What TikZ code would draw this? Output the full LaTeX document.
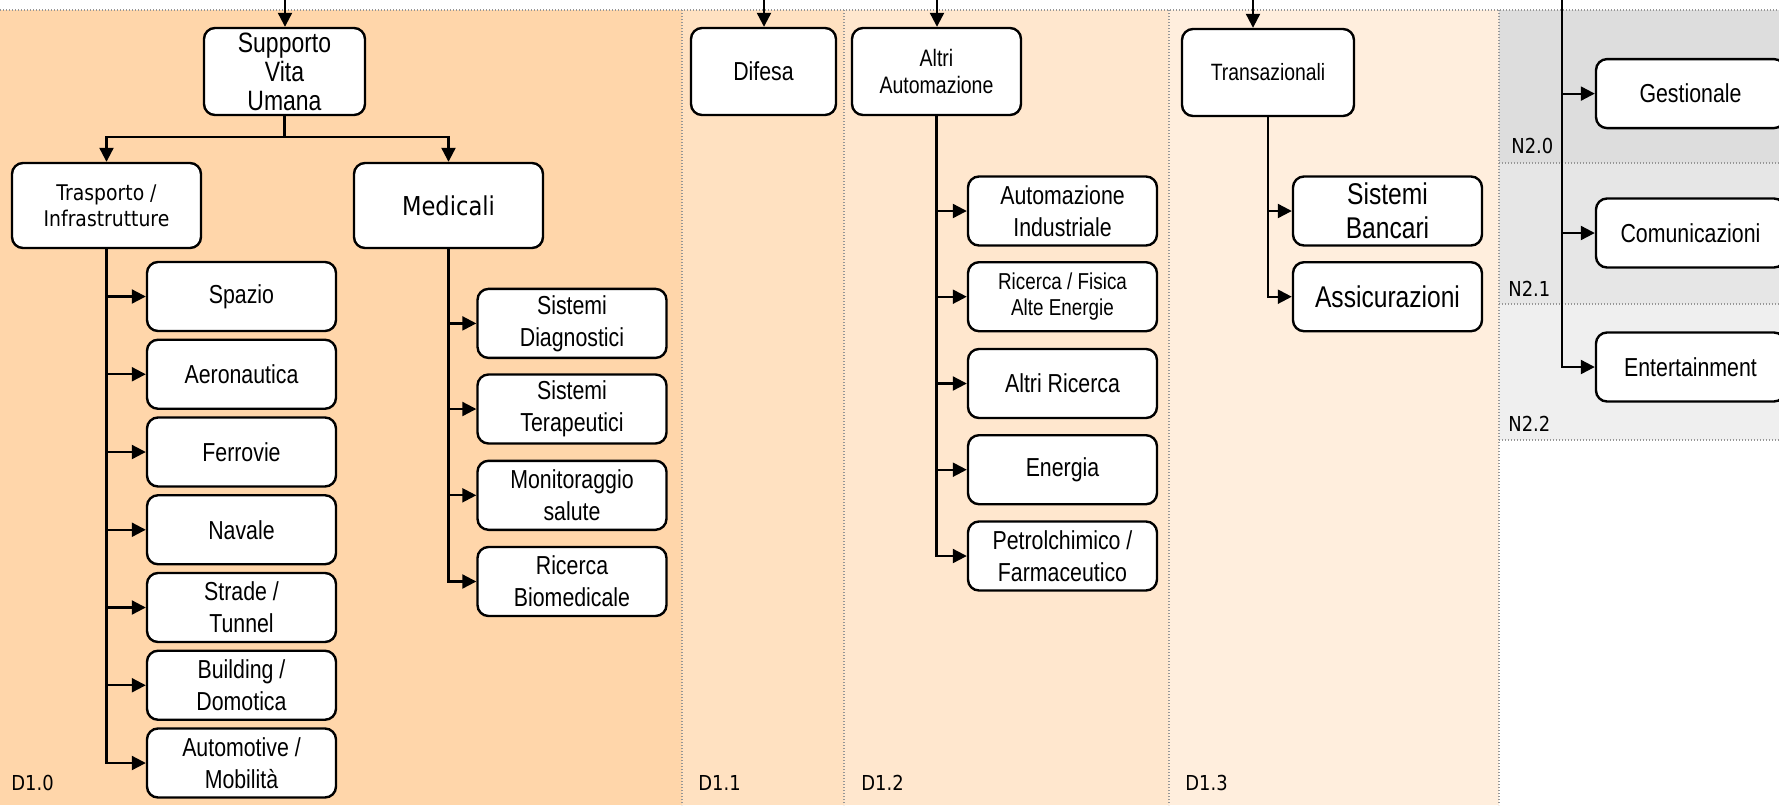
\documentclass[tikz,border=0pt]{standalone}
\usepackage{fontspec}
\setmainfont[FakeStretch=0.82]{Liberation Sans}
\newfontfamily\tah[FakeStretch=0.87]{DejaVu Sans}
\usetikzlibrary{arrows.meta}
\definecolor{dA}{RGB}{255,214,170}
\definecolor{dB}{RGB}{255,225,193}
\definecolor{dC}{RGB}{255,231,206}
\definecolor{dD}{RGB}{255,238,221}
\definecolor{nA}{RGB}{221,221,221}
\definecolor{nB}{RGB}{230,230,230}
\definecolor{nC}{RGB}{239,239,239}
\definecolor{brd}{RGB}{150,150,150}
\tikzset{
  box/.style={draw, line width=1.2pt, rounded corners=5.5pt, fill=white, align=center,
    inner sep=1pt, minimum width=94.5pt, minimum height=34.5pt, font=\fontsize{13}{16}\selectfont},
  topbox/.style={box, minimum height=43.5pt},
  arr/.style={line width=1.1pt, -{Triangle[length=7pt,width=7pt]}},
  conn/.style={line width=1.1pt},
  border/.style={draw=brd, line width=0.6pt, dash pattern=on 0.7pt off 0.8pt},
  plabel/.style={anchor=base west, inner sep=0pt, font=\tah\fontsize{10.3}{12}\selectfont}
}
\begin{document}
\begin{tikzpicture}[x=0.5pt,y=-0.5pt]
\useasboundingbox (0,0) rectangle (1779,805);
% panels
\fill[dA] (0,10) rectangle (682,805);
\fill[dB] (682,10) rectangle (844,805);
\fill[dC] (844,10) rectangle (1169,805);
\fill[dD] (1169,10) rectangle (1499,805);
\fill[nA] (1499,10) rectangle (1790,163);
\fill[nB] (1499,163) rectangle (1790,304);
\fill[nC] (1499,304) rectangle (1790,440);
\draw[border] (0,10) -- (1790,10);
\draw[border] (682,10) -- (682,805);
\draw[border] (844,10) -- (844,805);
\draw[border] (1169,10) -- (1169,805);
\draw[border] (1499,10) -- (1499,805);
\draw[border] (1499,163) -- (1790,163);
\draw[border] (1499,304) -- (1790,304);
\draw[border] (1499,440) -- (1790,440);
\node[plabel] (lD10) at (11,790) {D1.0};
\node[plabel] (lD11) at (698,790) {D1.1};
\node[plabel] (lD12) at (861,790) {D1.2};
\node[plabel] (lD13) at (1185,790) {D1.3};
\node[plabel] (lN20) at (1511,153) {N2.0};
\node[plabel] (lN21) at (1508,296) {N2.1};
\node[plabel] (lN22) at (1508,431) {N2.2};

% D1.0
\node[topbox, minimum width=80.5pt, font=\fontsize{14}{14.5}\selectfont] (supp) at (284.5,71.5) {Supporto\\Vita\\Umana};
\node[box, minimum height=42.5pt, font=\tah\fontsize{10.8}{13}\selectfont] (trasp) at (106.5,205.5) {Trasporto /\\Infrastrutture};
\node[box, minimum height=42.5pt, font=\tah\fontsize{13}{16}\selectfont] (medic) at (448.5,205.5) {Medicali};

\node[box] (spazio) at (241.5,296.5) {Spazio};
\node[box] (aero) at (241.5,374.25) {Aeronautica};
\node[box] (ferr) at (241.5,452) {Ferrovie};
\node[box] (nav) at (241.5,529.75) {Navale};
\node[box] (strade) at (241.5,607.5) {Strade /\\Tunnel};
\node[box] (build) at (241.5,685.25) {Building /\\Domotica};
\node[box] (auto) at (241.5,763) {Automotive /\\Mobilità};

\node[box] (diag) at (572,323.4) {Sistemi\\Diagnostici};
\node[box] (tera) at (572,409) {Sistemi\\Terapeutici};
\node[box] (moni) at (572,495.3) {Monitoraggio\\salute};
\node[box] (biom) at (572,581.5) {Ricerca\\Biomedicale};

% D1.1
\node[topbox, minimum width=72.5pt] (dif) at (763.5,71.5) {Difesa};
% D1.2
\node[topbox, minimum width=84.5pt, font=\fontsize{11.9}{13.5}\selectfont] (altri) at (936.5,71.5) {Altri\\Automazione};
\node[box] (ind) at (1062.5,211) {Automazione\\Industriale};
\node[box, font=\fontsize{11.5}{13.3}\selectfont] (fis) at (1062.5,296.7) {Ricerca / Fisica\\Alte Energie};
\node[box] (aric) at (1062.5,383.5) {Altri Ricerca};
\node[box] (ener) at (1062.5,469.7) {Energia};
\node[box] (petr) at (1062.5,556) {Petrolchimico /\\Farmaceutico};
% D1.3
\node[topbox, minimum width=86pt, font=\fontsize{11.8}{13.5}\selectfont] (trans) at (1268,72.5) {Transazionali};
\node[box, font=\fontsize{15}{17}\selectfont] (banc) at (1387.5,211) {Sistemi\\Bancari};
\node[box, font=\fontsize{15}{17}\selectfont] (assic) at (1387.5,296.7) {Assicurazioni};
% N2
\node[box] (gest) at (1690.5,93.6) {Gestionale};
\node[box] (comu) at (1690.5,233) {Comunicazioni};
\node[box] (ente) at (1690.5,367) {Entertainment};

% incoming arrows
\coordinate (in1) at (285,0);
\coordinate (in2) at (764,0);
\coordinate (in3) at (937,0);
\coordinate (in4) at (1253,0);
\coordinate (in5) at (1562,0);
\draw[arr] (in1) -- (in1 |- supp.north);
\draw[arr] (in2) -- (in2 |- dif.north);
\draw[arr] (in3) -- (in3 |- altri.north);
\draw[arr] (in4) -- (in4 |- trans.north);

% Supporto split
\coordinate (sj) at (284.5,137);
\draw[conn] (supp.south) -- (sj);
\draw[arr] (sj) -| (trasp.north);
\draw[arr] (sj) -| (medic.north);

% trunks
\foreach \c in {spazio,aero,ferr,nav,strade,build,auto}
  \draw[arr] (trasp.south) |- (\c.west);
\foreach \c in {diag,tera,moni,biom}
  \draw[arr] (medic.south) |- (\c.west);
\foreach \c in {ind,fis,aric,ener,petr}
  \draw[arr] (altri.south) |- (\c.west);
\foreach \c in {banc,assic}
  \draw[arr] (trans.south) |- (\c.west);
\foreach \c in {gest,comu,ente}
  \draw[arr] (in5) |- (\c.west);
\end{tikzpicture}
\end{document}
